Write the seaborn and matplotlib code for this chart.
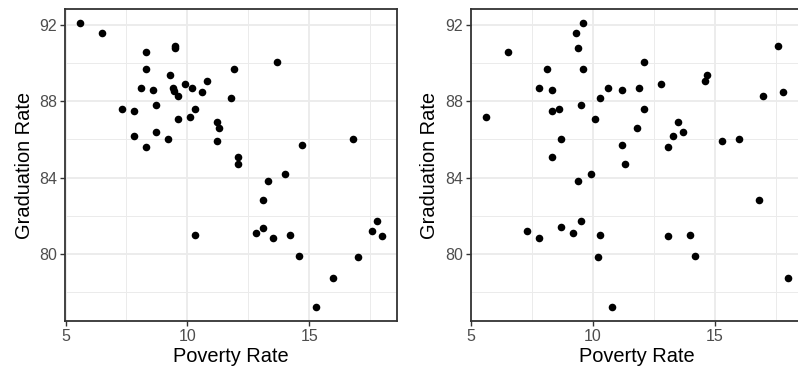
import matplotlib
matplotlib.use('Agg')
import matplotlib.pyplot as plt
from matplotlib.ticker import MultipleLocator
import seaborn as sns
import pandas as pd

# left panel: observed poverty vs graduation
poverty = [5.6, 6.5, 8.3, 9.5, 9.5, 8.3, 9.3, 8.1, 8.6, 9.4, 9.45, 9.6, 9.9,
           10.2, 10.6, 10.8, 11.8, 7.3, 7.8, 8.7, 10.3, 9.6, 10.1, 11.2, 11.3,
           11.2, 7.8, 8.7, 9.2, 8.3, 13.7, 11.9, 14.7, 16.8, 12.1, 12.1, 10.3,
           14.0, 13.3, 13.1, 12.8, 13.1, 13.5, 14.2, 14.6, 15.3, 16.0, 17.0,
           17.8, 17.6, 18.0]
graduation = [92.1, 91.6, 90.6, 90.9, 90.8, 89.7, 89.4, 88.7, 88.6, 88.7, 88.55,
              88.3, 88.9, 88.7, 88.5, 89.1, 88.2, 87.6, 87.5, 87.8, 87.6, 87.1,
              87.2, 86.9, 86.6, 85.9, 86.2, 86.4, 86.0, 85.6, 90.1, 89.7, 85.7,
              86.0, 85.1, 84.7, 81.0, 84.2, 83.8, 82.8, 81.1, 81.35, 80.8, 81.0,
              79.9, 77.2, 78.7, 79.8, 81.7, 81.2, 80.9]

# right panel: shuffled graduation rates
poverty_shuf = [9.6, 9.3, 6.5, 9.4, 8.1, 9.6, 7.8, 8.3, 10.6, 11.2, 10.3, 5.6,
                8.3, 8.6, 9.5, 10.1, 8.7, 11.2, 8.3, 11.3, 12.1, 11.9, 12.8, 12.1,
                11.8, 14.7, 14.6, 17.6, 17.0, 17.8, 13.5, 13.3, 13.7, 13.1, 15.3,
                16.0, 9.9, 9.4, 7.3, 7.8, 8.7, 9.2, 9.5, 10.3, 10.2, 10.8, 16.8,
                13.1, 14.0, 14.2, 18.0]
graduation_shuf = [92.1, 91.6, 90.6, 90.8, 89.7, 89.7, 88.7, 88.6, 88.7, 88.6,
                   88.2, 87.2, 87.5, 87.6, 87.8, 87.1, 86.0, 85.7, 85.1, 84.7,
                   90.1, 88.7, 88.9, 87.6, 86.6, 89.4, 89.1, 90.9, 88.3, 88.5,
                   86.9, 86.2, 86.4, 85.6, 85.9, 86.0, 84.2, 83.8, 81.2, 80.8,
                   81.4, 81.1, 81.7, 81.0, 79.8, 77.2, 82.8, 80.9, 81.0, 79.9,
                   78.7]

x_ticks = [5, 10, 15]
y_ticks = [80, 84, 88, 92]

sns.set_style('white')
plt.rcParams['font.family'] = ['Liberation Sans', 'DejaVu Sans']

fig = plt.figure(figsize=(7.98, 3.72), dpi=100)
ax1 = fig.add_axes([0.0815, 0.137, 0.4164, 0.838])
ax2 = fig.add_axes([0.5898, 0.137, 0.4164, 0.838])

df1 = pd.DataFrame({'Poverty Rate': poverty, 'Graduation Rate': graduation})
df2 = pd.DataFrame({'Poverty Rate': poverty_shuf, 'Graduation Rate': graduation_shuf})


def expand(vals, mult=0.05):
    lo, hi = min(vals), max(vals)
    pad = (hi - lo) * mult
    return lo - pad, hi + pad


for ax, df in [(ax1, df1), (ax2, df2)]:
    sns.scatterplot(data=df, x='Poverty Rate', y='Graduation Rate', ax=ax,
                    color='black', s=30, linewidth=0, zorder=3)
    ax.set_xlim(expand(df['Poverty Rate']))
    ax.set_ylim(expand(df['Graduation Rate']))
    ax.set_xticks(x_ticks)
    ax.set_yticks(y_ticks)
    ax.xaxis.set_minor_locator(MultipleLocator(2.5))
    ax.yaxis.set_minor_locator(MultipleLocator(2))
    ax.grid(which='major', color='#EBEBEB', linewidth=1.3, zorder=0)
    ax.grid(which='minor', color='#EBEBEB', linewidth=0.7, zorder=0)
    ax.set_axisbelow(True)
    for sp in ax.spines.values():
        sp.set_color('#333333')
        sp.set_linewidth(1.3)
    ax.tick_params(which='major', length=3.6, width=1.0, color='#333333',
                   labelsize=11.5, labelcolor='#4D4D4D', pad=2,
                   bottom=True, left=True)
    ax.tick_params(which='minor', length=0)
    ax.set_xlabel('Poverty Rate', fontsize=14.4, color='black', labelpad=2)
    ax.set_ylabel('Graduation Rate', fontsize=14.4, color='black', labelpad=4)

fig.savefig('out.png', dpi=100)
